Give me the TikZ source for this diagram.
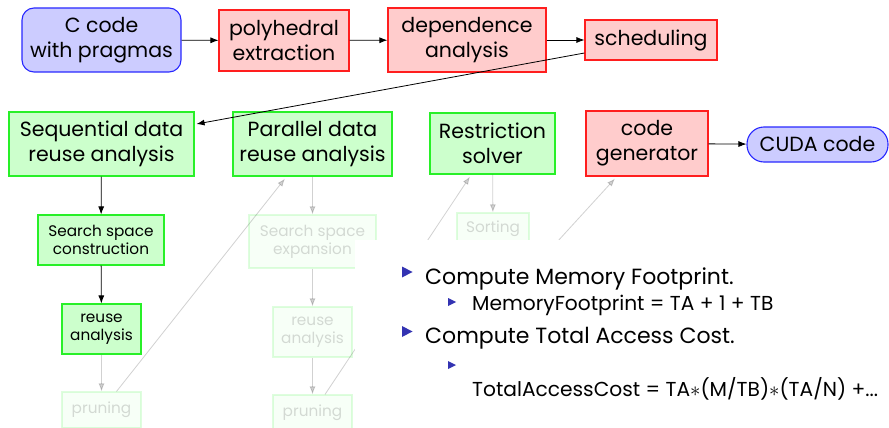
\documentclass[tikz,border=0pt]{standalone}
\usepackage{fontspec}
\setmainfont{Poppins}
\usetikzlibrary{arrows.meta,calc}
\definecolor{cblue}{RGB}{204,204,255}
\definecolor{bblue}{RGB}{40,40,255}
\definecolor{cred}{RGB}{255,204,204}
\definecolor{bred}{RGB}{255,30,30}
\definecolor{cgreen}{RGB}{204,255,204}
\definecolor{bgreen}{RGB}{40,240,40}
\definecolor{itemblue}{RGB}{51,51,178}
\begin{document}
\begin{tikzpicture}[x=1pt,y=-1pt,
  base/.style={draw, line width=1.1pt, align=center, inner sep=0pt, text=black},
  bluebox/.style={base, fill=cblue, draw=bblue, rounded corners=12pt},
  redbox/.style={base, fill=cred, draw=bred},
  greenbox/.style={base, fill=cgreen, draw=bgreen},
  bigtxt/.style={font=\fontsize{20.5}{25}\selectfont},
  smalltxt/.style={font=\fontsize{15.3}{18}\selectfont},
  faded/.style={opacity=0.15},
  link/.style={-{Latex[length=8pt,width=6pt]}, line width=0.8pt},
  fadedlink/.style={link, opacity=0.18},
  lvlone/.style={anchor=base west, inner sep=0pt, font=\fontsize{22}{26}\selectfont},
  lvltwo/.style={anchor=base west, inner sep=0pt, font=\fontsize{20.2}{24}\selectfont},
]
\useasboundingbox (0,0) rectangle (889,428);

% --- top row: front end ---
\node[bluebox,bigtxt,minimum width=159pt,minimum height=64pt] (ccode) at (101.5,40) {C code\\with pragmas};
\node[redbox,bigtxt,minimum width=130pt,minimum height=61pt] (poly) at (284,40.5) {polyhedral\\extraction};
\node[redbox,bigtxt,minimum width=158pt,minimum height=64pt] (dep) at (467,40) {dependence\\analysis};
\node[redbox,bigtxt,minimum width=132pt,minimum height=40pt] (sched) at (651,40) {scheduling};

% --- second row: analyses and back end ---
\node[greenbox,bigtxt,minimum width=185pt,minimum height=64pt] (seq) at (101.5,144) {Sequential data\\reuse analysis};
\node[greenbox,bigtxt,minimum width=159pt,minimum height=64pt] (par) at (312.5,144) {Parallel data\\reuse analysis};
\node[greenbox,bigtxt,minimum width=125pt,minimum height=61pt] (restr) at (492.5,143.5) {Restriction\\solver};
\node[redbox,bigtxt,minimum width=122pt,minimum height=65pt] (cgen) at (647,143.5) {code\\generator};
\node[bluebox,bigtxt,rounded corners=17pt,minimum width=141pt,minimum height=35pt] (cuda) at (817.5,144.5) {CUDA code};

\draw[link] (ccode) -- (poly);
\draw[link] (poly) -- (dep);
\draw[link] (dep) -- (sched);
\draw[link] ([yshift=-13pt]sched.west) -- ([yshift=20pt,xshift=2pt]seq.east);
\draw[link] (cgen) -- (cuda);

% --- sequential branch ---
\node[greenbox,smalltxt,minimum width=126pt,minimum height=50pt] (search) at (101,240) {Search space\\construction};
\node[greenbox,smalltxt,minimum width=79pt,minimum height=50pt] (reuse) at (101.5,329) {reuse\\analysis};
\draw[link] (seq) -- (search);
\draw[link] (search) -- (reuse);

% --- later steps, still to come ---
\begin{scope}[every node/.append style={faded}]
\node[greenbox,smalltxt,minimum width=79pt,minimum height=36pt] (prune) at (101.5,410) {pruning};
\node[greenbox,smalltxt,minimum width=127pt,minimum height=53pt] (expand) at (312.5,241.5) {Search space\\expansion};
\node[greenbox,smalltxt,minimum width=79pt,minimum height=50pt] (reuse2) at (312.5,332) {reuse\\analysis};
\node[greenbox,smalltxt,minimum width=79pt,minimum height=36pt] (prune2) at (312.5,413) {pruning};
\node[greenbox,smalltxt,minimum width=72pt,minimum height=32pt] (sorting) at (493,229) {Sorting};
\end{scope}
\coordinate (cgsrc) at (504,300);
\draw[fadedlink] (reuse) -- (prune);
\draw[fadedlink] ([xshift=15pt]prune.north) -- ([xshift=-27.5pt,yshift=-2pt]par.south);
\draw[fadedlink] (par) -- (expand);
\draw[fadedlink] (expand) -- (reuse2);
\draw[fadedlink] (reuse2) -- (prune2);
\draw[fadedlink] ([xshift=12.5pt]prune2.north) -- ([xshift=-22.5pt,yshift=-2pt]restr.south);
\draw[fadedlink] (restr) -- (sorting);
\draw[fadedlink] (cgsrc) -- ([xshift=-32pt,yshift=-2pt]cgen.south);

% --- cost model text panel ---
\fill[white] (355,240) rectangle (889,428);
\fill[itemblue] (402,266.5) -- (412.5,272) -- (402,277.5) -- cycle;
\fill[itemblue] (448,298) -- (456,302) -- (448,306) -- cycle;
\fill[itemblue] (402,326) -- (412.5,331.5) -- (402,337) -- cycle;
\fill[itemblue] (448,361) -- (456,365) -- (448,369) -- cycle;
\node[lvlone] (t1) at (425,284) {Compute Memory Footprint.};
\node[lvltwo] (t2) at (472,310) {MemoryFootprint = TA + 1 + TB};
\node[lvlone] (t3) at (425,343) {Compute Total Access Cost.};
\node[lvltwo] (t4) at (472,396) {TotalAccessCost = TA$\ast$(M/TB)$\ast$(TA/N) +...};
\end{tikzpicture}
\end{document}
